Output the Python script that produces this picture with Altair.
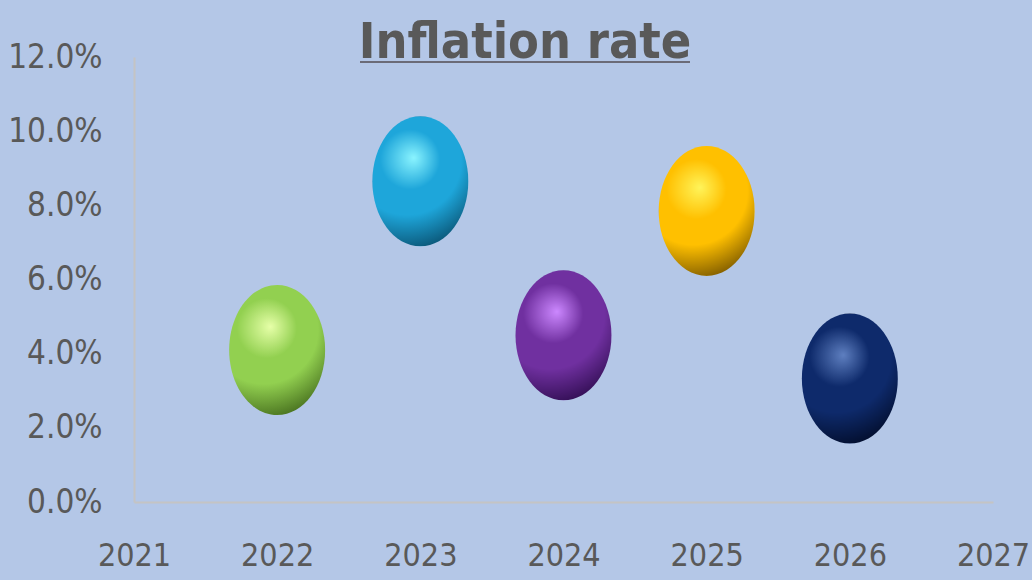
import altair as alt
import pandas as pd

# ---- data ----
years = [2022, 2023, 2024, 2025, 2026]
rates = [0.041, 0.0865, 0.045, 0.0785, 0.0333]
base_colors = ["#92D050", "#1EA6DA", "#7030A0", "#FFC000", "#0E2A6B"]
light_colors = ["#E6FFA8", "#8AF4FF", "#CC88FF", "#FFF45A", "#5E7FC0"]
dark_colors = ["#3E6418", "#084A68", "#2A0A4A", "#6E4E00", "#010A24"]

x_ticks = [2021, 2022, 2023, 2024, 2025, 2026, 2027]
y_ticks = [0.0, 0.02, 0.04, 0.06, 0.08, 0.10, 0.12]
title_text = "Inflation rate"

df = pd.DataFrame({"year": years, "rate": rates})

BG = "#B4C7E7"
TXT = "#595959"
FONT = "'DejaVu Sans Condensed', 'Roboto Condensed', 'Liberation Sans Narrow', Roboto, sans-serif"
ELLIPSE = "M0,-1A0.738,1 0 1,1 0,1A0.738,1 0 1,1 0,-1Z"

x_enc = alt.X(
    "year:Q",
    scale=alt.Scale(domain=[2021, 2027], nice=False, zero=False),
    axis=alt.Axis(
        values=x_ticks, format="d", title=None, ticks=False, grid=False,
        labelFlush=False, labelOverlap=False, labelPadding=38,
        labelFont=FONT, labelFontSize=32, labelColor=TXT,
        domainColor="#C4C4C4", domainWidth=2,
    ),
)
y_enc = alt.Y(
    "rate:Q",
    scale=alt.Scale(domain=[0, 0.12], nice=False),
    axis=alt.Axis(
        values=y_ticks, format=".1%", title=None, ticks=False, grid=False,
        labelPadding=32, labelOverlap=False, labelFlush=False,
        labelFont=FONT, labelFontSize=33, labelColor=TXT,
        domainColor="#C4C4C4", domainWidth=2,
    ),
)

layers = []
for yr, base, light, dark in zip(years, base_colors, light_colors, dark_colors):
    grad = alt.Gradient(
        gradient="radial",
        stops=[
            alt.GradientStop(offset=0.0, color=light),
            alt.GradientStop(offset=0.32, color=base),
            alt.GradientStop(offset=0.58, color=base),
            alt.GradientStop(offset=1.0, color=dark),
        ],
        x1=0.45, y1=0.32, r1=0.0,
        x2=0.36, y2=0.36, r2=0.72,
    )
    layer = (
        alt.Chart(df)
        .transform_filter(alt.datum.year == yr)
        .mark_point(shape=ELLIPSE, size=16900, filled=True, fill=grad,
                    opacity=1, strokeWidth=0)
        .encode(x=x_enc, y=y_enc)
    )
    layers.append(layer)

title_df = pd.DataFrame({"t": [title_text]})
title_layer = (
    alt.Chart(title_df)
    .mark_text(font=FONT, fontSize=50, fontWeight="bold", color=TXT,
               align="center", baseline="alphabetic")
    .encode(text="t:N", x=alt.value(391), y=alt.value(1))
)
underline = (
    alt.Chart(title_df)
    .mark_rule(color="#6B6B78", strokeWidth=2)
    .encode(x=alt.value(226), x2=alt.value(556), y=alt.value(5))
)

chart = (
    alt.layer(*layers, title_layer, underline)
    .properties(
        width=859, height=445, background=BG,
        autosize=alt.AutoSizeParams(type="none"),
        padding={"left": 134, "top": 57, "right": 39, "bottom": 78},
    )
    .configure_view(stroke=None, fill=BG)
)

chart.save("out.html", embed_options={"renderer": "svg", "actions": False})
